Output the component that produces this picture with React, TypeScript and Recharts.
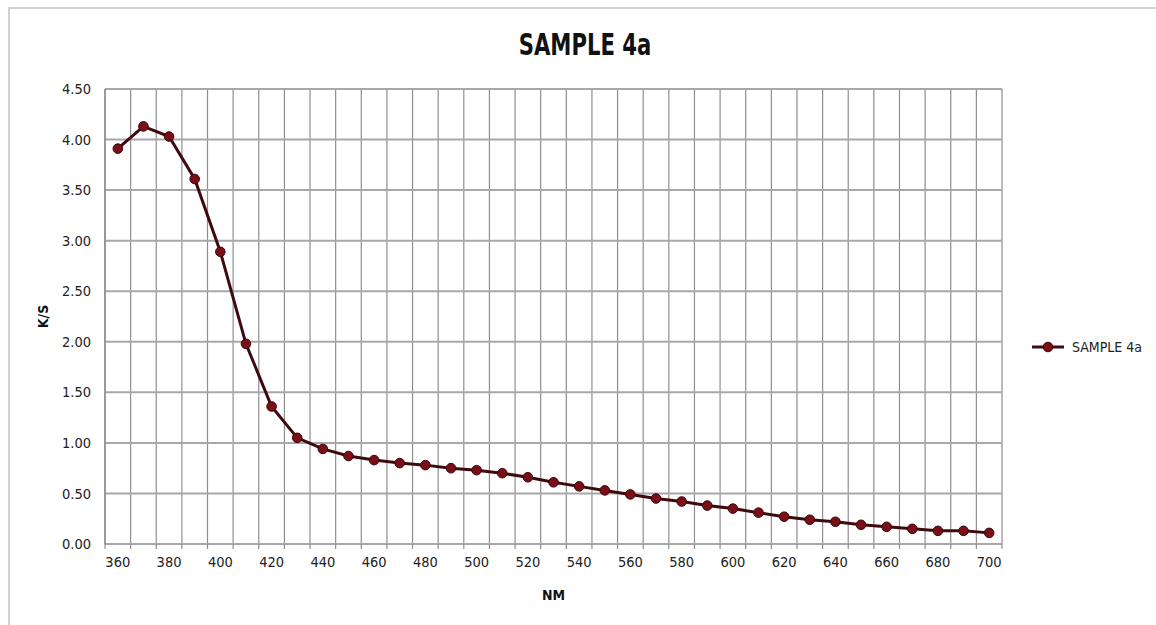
import React from 'react'
import {
  LineChart,
  Line,
  XAxis,
  YAxis,
  CartesianGrid,
  Legend,
} from 'recharts'

// wavelength (nm) and K/S readings
const wavelengths = [
  360, 370, 380, 390, 400, 410, 420, 430, 440, 450, 460, 470, 480, 490, 500, 510, 520, 530,
  540, 550, 560, 570, 580, 590, 600, 610, 620, 630, 640, 650, 660, 670, 680, 690, 700,
]
const ksValues = [
  3.91, 4.13, 4.03, 3.61, 2.89, 1.98, 1.36, 1.05, 0.94, 0.87, 0.83, 0.8, 0.78, 0.75, 0.73, 0.7,
  0.66, 0.61, 0.57, 0.53, 0.49, 0.45, 0.42, 0.38, 0.35, 0.31, 0.27, 0.24, 0.22, 0.19, 0.17,
  0.15, 0.13, 0.13, 0.11,
]
const xLabelTicks = [360, 380, 400, 420, 440, 460, 480, 500, 520, 540, 560, 580, 600, 620, 640, 660, 680, 700]
const xBoundaryTicks = [
  355, 365, 375, 385, 395, 405, 415, 425, 435, 445, 455, 465, 475, 485, 495, 505, 515, 525,
  535, 545, 555, 565, 575, 585, 595, 605, 615, 625, 635, 645, 655, 665, 675, 685, 695, 705,
]
const yTicks = [0, 0.5, 1, 1.5, 2, 2.5, 3, 3.5, 4, 4.5]

const seriesName = 'SAMPLE 4a'
const data = wavelengths.map((nm, i) => ({ nm, ks: ksValues[i] }))
const allXTicks = [...xBoundaryTicks, ...xLabelTicks].sort((a, b) => a - b)

const FONT = "'DejaVu Sans Condensed', 'DejaVu Sans', sans-serif"
const LINE = '#3f0a0e'
const MARKER = '#7a0f17'
const GRID = '#8e8e8e'
const TICK_GAP = 13

const Marker = (props: any) => {
  const { cx, cy } = props
  if (cx == null || cy == null) return null
  return <circle cx={cx} cy={cy} r={4.8} fill={MARKER} stroke="#3a0508" strokeWidth={1} />
}

const XTick = (props: any) => {
  const { x, y, payload } = props
  const v = payload.value
  if (xBoundaryTicks.includes(v)) {
    return <line x1={x} x2={x} y1={y - TICK_GAP} y2={y - TICK_GAP + 5} stroke={GRID} strokeWidth={1.2} />
  }
  return (
    <text
      x={x}
      y={y}
      dy="0.71em"
      textAnchor="middle"
      fill="#222"
      fontSize={14.5}
      fontFamily={FONT}
      style={{ fontStretch: 'condensed' }}
    >
      {v}
    </text>
  )
}

const LegendItem = () => (
  <div
    style={{
      display: 'flex',
      alignItems: 'center',
      fontFamily: FONT,
      fontStretch: 'condensed',
      fontSize: 14,
      color: '#222',
    }}
  >
    <svg width={34} height={12} style={{ marginRight: 6 }}>
      <line x1={0} y1={6} x2={32} y2={6} stroke={LINE} strokeWidth={3} />
      <circle cx={16} cy={6} r={4.8} fill={MARKER} stroke="#3a0508" strokeWidth={1} />
    </svg>
    <span>{seriesName}</span>
  </div>
)

const boundaryLines = ({ xAxis, offset }: any) => {
  if (xAxis && typeof xAxis.scale === 'function') {
    return xBoundaryTicks.map((v) => xAxis.scale(v))
  }
  const step = offset.width / (xBoundaryTicks.length - 1)
  return xBoundaryTicks.map((_, i) => offset.left + i * step)
}

const tickStyle = { fill: '#222', fontSize: 14.5, fontFamily: FONT, fontStretch: 'condensed' }
const axisTitle = { fill: '#111', fontSize: 14, fontWeight: 'bold', fontFamily: FONT, fontStretch: 'condensed' }

export default function App() {
  return (
    <div style={{ position: 'relative', width: 1156, height: 625, background: '#fff' }}>
      <style>{'body{margin:0;overflow:hidden}'}</style>
      <div
        style={{
          position: 'absolute',
          left: 8,
          top: 7,
          width: 1148,
          height: 618,
          borderTop: '2px solid #d2d2d2',
          borderLeft: '2px solid #d2d2d2',
          boxSizing: 'border-box',
        }}
      />
      <div
        style={{
          position: 'absolute',
          left: 0,
          width: 1170,
          top: 26,
          textAlign: 'center',
          fontFamily: FONT,
          fontStretch: 'condensed',
          fontWeight: 'bold',
          fontSize: 31,
          color: '#111',
          transform: 'scaleX(0.76)',
        }}
      >
        {seriesName}
      </div>
      <LineChart
        width={1156}
        height={625}
        data={data}
        margin={{ top: 89, right: 154, bottom: 25, left: 45 }}
        style={{ position: 'absolute', left: 0, top: 0 }}
      >
        <CartesianGrid
          horizontal={false}
          stroke={GRID}
          strokeWidth={1.2}
          verticalCoordinatesGenerator={boundaryLines}
        />
        <CartesianGrid vertical={false} stroke="#a8a8a8" strokeWidth={2} />
        <XAxis
          dataKey="nm"
          type="number"
          domain={[355, 705]}
          ticks={allXTicks}
          interval={0}
          height={56}
          tickLine={false}
          tickSize={0}
          tickMargin={TICK_GAP}
          axisLine={{ stroke: '#a8a8a8', strokeWidth: 2 }}
          tick={<XTick />}
          label={{ value: 'NM', position: 'insideBottom', offset: 0, style: axisTitle }}
        />
        <YAxis
          type="number"
          domain={[0, 4.5]}
          ticks={yTicks}
          width={60}
          tickLine={false}
          tickSize={0}
          tickMargin={14}
          axisLine={{ stroke: GRID, strokeWidth: 1.5 }}
          tickFormatter={(v: number) => v.toFixed(2)}
          tick={tickStyle}
          label={{
            value: 'K/S',
            angle: -90,
            position: 'insideLeft',
            offset: -2,
            style: { ...axisTitle, textAnchor: 'middle' },
          }}
        />
        <Legend
          layout="horizontal"
          verticalAlign="middle"
          align="center"
          content={() => <LegendItem />}
          wrapperStyle={{ left: 1032, top: 339, width: 'auto' }}
        />
        <Line
          type="linear"
          dataKey="ks"
          name={seriesName}
          stroke={LINE}
          strokeWidth={3}
          dot={<Marker />}
          activeDot={false}
          isAnimationActive={false}
        />
      </LineChart>
    </div>
  )
}
